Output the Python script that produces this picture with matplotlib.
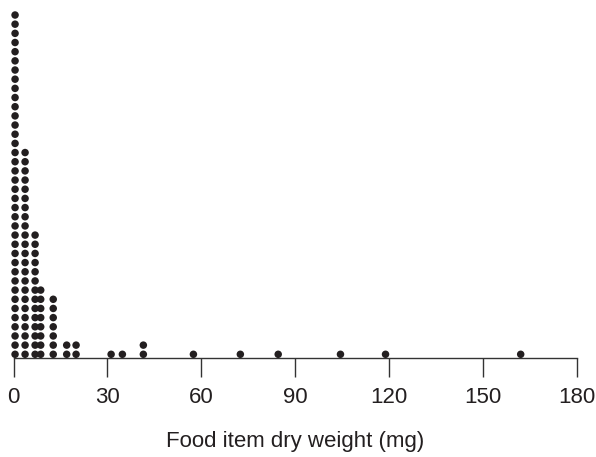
import matplotlib
matplotlib.use("Agg")
import matplotlib.pyplot as plt

# Dot plot data: weight value (mg) of each stacked column and number of dots in it
values = [0.5, 3.7, 6.9, 8.7, 12.7, 17.0, 20.0, 31.2, 34.8, 41.5, 57.5, 72.5, 84.6, 104.5, 118.9, 162.1]
counts = [38, 23, 14, 8, 7, 2, 2, 1, 1, 2, 1, 1, 1, 1, 1, 1]
xticks = [0, 30, 60, 90, 120, 150, 180]
xlabel = "Food item dry weight (mg)"

plt.rcParams['font.family'] = ['Liberation Sans', 'DejaVu Sans']

W, H, DPI = 596, 457, 100
fig = plt.figure(figsize=(W / DPI, H / DPI), dpi=DPI)

ax_left_px, ax_right_px = 13.5, 576.7
ax_bottom_px, ax_top_px = 358.3, 10.0   # from top of image
step_px = 9.17
ax = fig.add_axes([ax_left_px / W, (H - ax_bottom_px) / H,
                   (ax_right_px - ax_left_px) / W, (ax_bottom_px - ax_top_px) / H])

xs, ys = [], []
for v, c in zip(values, counts):
    for k in range(c):
        xs.append(v)
        ys.append(k)

ax.scatter(xs, ys, s=5.4 ** 2, color='#231f20', edgecolors='none', clip_on=False, zorder=3)

ybot = -4.0 / step_px
ax.set_ylim(ybot, ybot + (ax_bottom_px - ax_top_px) / step_px)
ax.set_xlim(0, 180)
ax.set_xticks(xticks)
ax.set_xticklabels([str(t) for t in xticks], fontsize=16, color='#231f20')
ax.tick_params(axis='x', direction='out', length=13.5, width=1.0, color='#333333', pad=7)
ax.set_yticks([])
for s in ['left', 'right', 'top']:
    ax.spines[s].set_visible(False)
ax.spines['bottom'].set_color('#333333')
ax.spines['bottom'].set_linewidth(1.0)
ax.set_xlabel(xlabel, fontsize=16, color='#231f20', labelpad=17)

fig.savefig('out.png', dpi=DPI)
